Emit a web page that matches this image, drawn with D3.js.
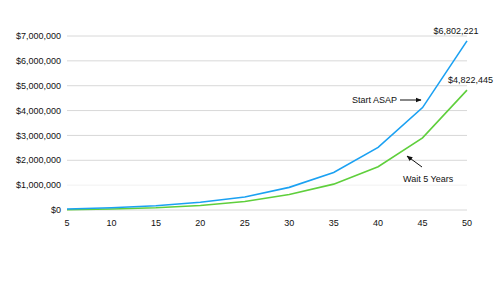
<!DOCTYPE html>
<html>
<head>
<meta charset="utf-8">
<script src="https://cdn.jsdelivr.net/npm/d3@7"></script>
<style>
  body { margin: 0; background: #fff; }
  svg text { font-family: "Liberation Sans", Arial, sans-serif; fill: #111; }
</style>
</head>
<body>
<svg id="chart" width="500" height="281"></svg>
<script>
const ages = [5, 10, 15, 20, 25, 30, 35, 40, 45, 50];
const startAsap = [40000, 90000, 170000, 310000, 520000, 910000, 1510000, 2520000, 4120000, 6802221];
const wait5 = [10000, 40000, 90000, 180000, 340000, 620000, 1040000, 1740000, 2900000, 4822445];
const yTicks = [0, 1000000, 2000000, 3000000, 4000000, 5000000, 6000000, 7000000];

const svg = d3.select('#chart');
const margin = {top: 36, right: 33, bottom: 71, left: 67};
const width = +svg.attr('width') - margin.left - margin.right;
const height = +svg.attr('height') - margin.top - margin.bottom;

const g = svg.append('g')
    .attr('transform', `translate(${margin.left}, ${margin.top})`);

const x = d3.scaleLinear().domain([5, 50]).range([0, width]);
const y = d3.scaleLinear().domain([0, 7000000]).range([height, 0]);

const fmt = d3.format('$,');

// grid
g.selectAll('.grid').data(yTicks).enter().append('line')
    .attr('x1', 0).attr('x2', width)
    .attr('y1', d => y(d)).attr('y2', d => y(d))
    .attr('stroke', d => d === 1000000 ? '#f2f2f2' : '#d8d8d8')
    .attr('stroke-width', 1);

// y labels
g.selectAll('.ylab').data(yTicks).enter().append('text')
    .attr('x', -6).attr('y', d => y(d)).attr('dy', '0.35em')
    .attr('text-anchor', 'end').attr('font-size', 9)
    .text(d => fmt(d));

// x labels
g.selectAll('.xlab').data(ages).enter().append('text')
    .attr('x', d => x(d)).attr('y', height + 16)
    .attr('text-anchor', 'middle').attr('font-size', 9)
    .text(d => d);

const line = d3.line().x((d, i) => x(ages[i])).y(d => y(d));

g.append('path').datum(wait5)
    .attr('fill', 'none').attr('stroke', '#5fcf3c').attr('stroke-width', 1.6)
    .attr('d', line);
g.append('path').datum(startAsap)
    .attr('fill', 'none').attr('stroke', '#1ba1f2').attr('stroke-width', 1.6)
    .attr('d', line);

// end labels
g.append('text')
    .attr('x', x(50) - 11).attr('y', y(startAsap[9]) - 7)
    .attr('text-anchor', 'middle').attr('font-size', 9)
    .text(fmt(startAsap[9]));
g.append('text')
    .attr('x', x(50) + 26).attr('y', y(wait5[9]) - 7)
    .attr('text-anchor', 'end').attr('font-size', 9)
    .text(fmt(wait5[9]));

// arrows
svg.append('defs').append('marker')
    .attr('id', 'arrow').attr('viewBox', '0 0 10 10')
    .attr('refX', 9).attr('refY', 5)
    .attr('markerWidth', 6).attr('markerHeight', 6)
    .attr('orient', 'auto')
    .append('path').attr('d', 'M0,1 L10,5 L0,9 Z').attr('fill', '#111');

svg.append('text')
    .attr('x', 352).attr('y', 103).attr('font-size', 9)
    .text('Start ASAP');
svg.append('line')
    .attr('x1', 400).attr('y1', 100).attr('x2', 421).attr('y2', 100)
    .attr('stroke', '#111').attr('stroke-width', 1)
    .attr('marker-end', 'url(#arrow)');

svg.append('text')
    .attr('x', 403).attr('y', 182).attr('font-size', 9)
    .text('Wait 5 Years');
svg.append('line')
    .attr('x1', 422).attr('y1', 167).attr('x2', 407).attr('y2', 156)
    .attr('stroke', '#111').attr('stroke-width', 1)
    .attr('marker-end', 'url(#arrow)');
</script>
</body>
</html>
